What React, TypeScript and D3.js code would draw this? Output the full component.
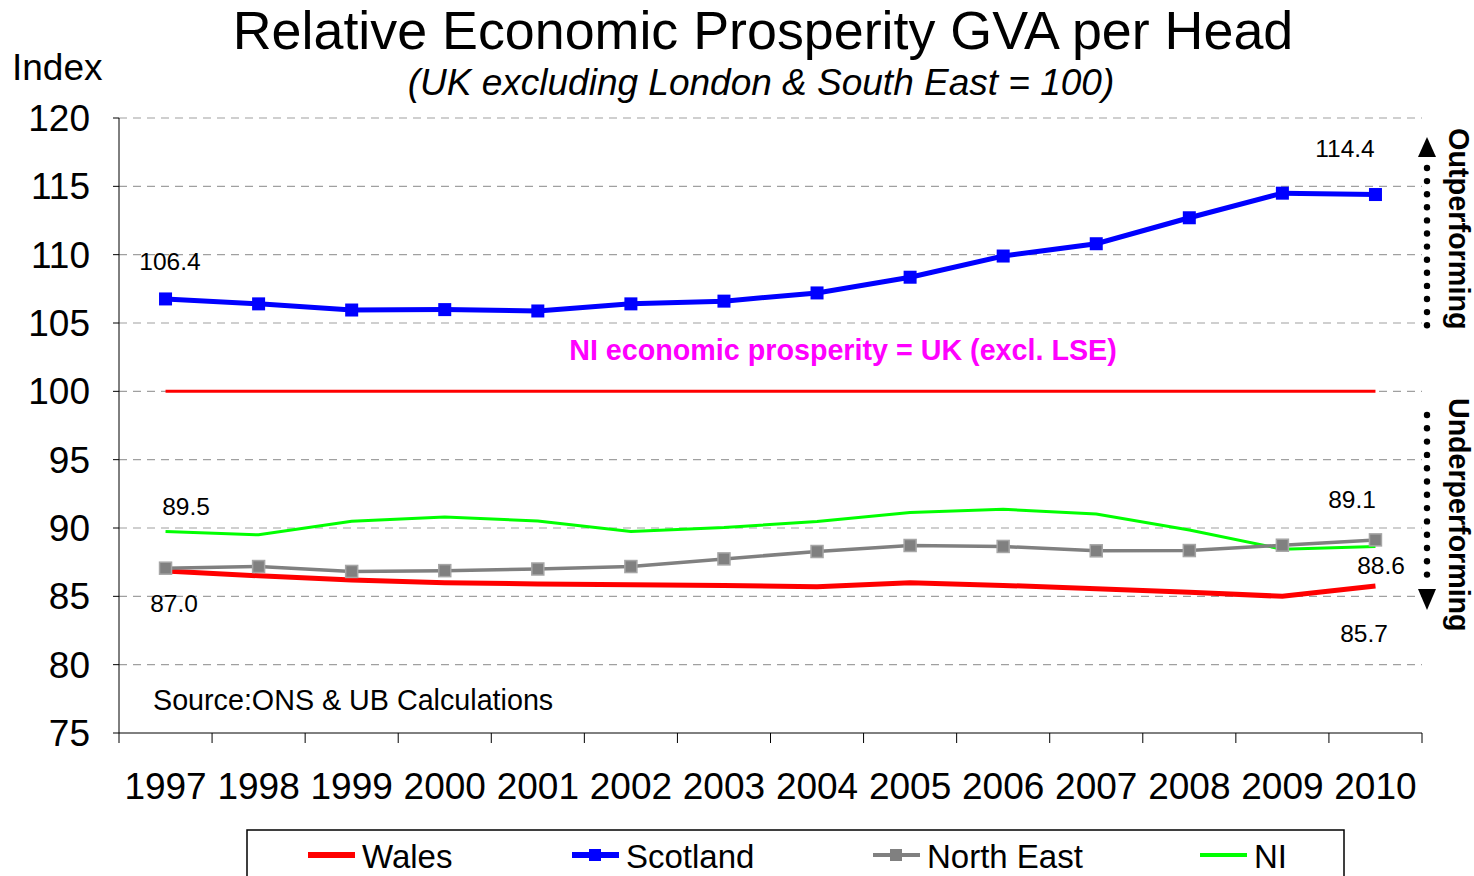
import React from "react";
import * as d3 from "d3";

const years = ["1997","1998","1999","2000","2001","2002","2003","2004","2005","2006","2007","2008","2009","2010"];
const wales = [86.86,86.5,86.2,86.0,85.9,85.85,85.8,85.7,86.0,85.8,85.55,85.3,85.0,85.75];
const scotland = [106.76,106.4,105.95,105.98,105.88,106.4,106.6,107.2,108.35,109.9,110.8,112.7,114.5,114.4];
const northEast = [87.06,87.18,86.82,86.88,87.0,87.18,87.74,88.28,88.72,88.65,88.33,88.35,88.74,89.13];
const ni = [89.74,89.5,90.5,90.8,90.52,89.74,90.03,90.48,91.13,91.37,91.03,89.86,88.45,88.65];
const baseline = years.map(() => 100);
const yTicks = [75,80,85,90,95,100,105,110,115,120];

const FONT = "'Liberation Sans', Arial, sans-serif";

export default function App() {
  const W = 1474, H = 876;
  const left = 119, right = 1422, top = 118, bottom = 733;
  const x = d3.scaleBand<string>().domain(years).range([left, right]);
  const y = d3.scaleLinear().domain([75, 120]).range([bottom, top]);
  const cx = (i: number) => (x(years[i]) as number) + x.bandwidth() / 2;
  const line = d3.line<number>().x((_, i) => cx(i)).y(d => y(d));

  const dotsUp = d3.range(168, 327, 13.1);
  const dotsDown = d3.range(415, 578, 13.3);

  const labels = [
    { t: "106.4", x: 170, y: 270 },
    { t: "114.4", x: 1345, y: 157 },
    { t: "89.5", x: 186, y: 515 },
    { t: "87.0", x: 174, y: 612 },
    { t: "89.1", x: 1352, y: 508 },
    { t: "88.6", x: 1381, y: 574 },
    { t: "85.7", x: 1364, y: 642 },
  ];

  const legend = [
    { name: "Wales", color: "#ff0000", x: 308, w: 5, marker: false },
    { name: "Scotland", color: "#0000ff", x: 572, w: 5, marker: true },
    { name: "North East", color: "#808080", x: 873, w: 3, marker: true },
    { name: "NI", color: "#00ff00", x: 1200, w: 3, marker: false },
  ];

  return (
    <svg width={W} height={H} style={{ position: "absolute", left: 0, top: 0, background: "#fff" }} fontFamily={FONT}>
      <rect x={0} y={0} width={W} height={H} fill="#fff" />
      <text x={763} y={49} textAnchor="middle" fontSize={53.8}>Relative Economic Prosperity GVA per Head</text>
      <text x={761} y={95} textAnchor="middle" fontSize={37} fontStyle="italic">(UK excluding London &amp; South East = 100)</text>
      <text x={12} y={80} fontSize={37}>Index</text>

      {yTicks.map(t => (
        <g key={t}>
          {t !== 75 && (
            <line x1={left} x2={right} y1={y(t)} y2={y(t)} stroke="#a0a0a0" strokeWidth={1.2} strokeDasharray="8,6" />
          )}
          <line x1={left - 6} x2={left} y1={y(t)} y2={y(t)} stroke="#000" />
          <text x={90} y={y(t) + 13} textAnchor="end" fontSize={37}>{t}</text>
        </g>
      ))}
      <line x1={left} x2={left} y1={top} y2={bottom} stroke="#000" strokeWidth={1} />
      <line x1={left} x2={right} y1={bottom} y2={bottom} stroke="#000" strokeWidth={1} />
      {years.map((yr) => (
        <line key={"t" + yr} x1={(x(yr) as number)} x2={(x(yr) as number)} y1={bottom} y2={bottom + 10} stroke="#000" />
      ))}
      <line x1={right} x2={right} y1={bottom} y2={bottom + 10} stroke="#000" />
      {years.map((yr, i) => (
        <text key={yr} x={cx(i)} y={799} textAnchor="middle" fontSize={37}>{yr}</text>
      ))}

      <path d={line(baseline) as string} fill="none" stroke="#ff0000" strokeWidth={3} />
      <path d={line(ni) as string} fill="none" stroke="#00ff00" strokeWidth={3} />
      <path d={line(wales) as string} fill="none" stroke="#ff0000" strokeWidth={5} />
      <path d={line(northEast) as string} fill="none" stroke="#808080" strokeWidth={3.5} />
      {northEast.map((v, i) => (
        <rect key={"ne" + i} x={cx(i) - 6} y={y(v) - 6} width={12} height={12} fill="#808080" stroke="#a6a6a6" strokeWidth={1.5} />
      ))}
      <path d={line(scotland) as string} fill="none" stroke="#0000ff" strokeWidth={5} />
      {scotland.map((v, i) => (
        <rect key={"sc" + i} x={cx(i) - 6.5} y={y(v) - 6.5} width={13} height={13} fill="#0000ff" />
      ))}

      {labels.map(l => (
        <text key={l.t} x={l.x} y={l.y} textAnchor="middle" fontSize={24.5}>{l.t}</text>
      ))}

      <text x={843} y={360} textAnchor="middle" fontSize={28.7} fontWeight="bold" fill="#ff00ff">NI economic prosperity = UK (excl. LSE)</text>
      <text x={153} y={710} fontSize={28.7}>Source:ONS &amp; UB Calculations</text>

      {dotsUp.map(d => <circle key={"u" + d} cx={1427} cy={d} r={3.2} fill="#000" />)}
      <path d="M1427,137 L1418,157 L1436,157 Z" fill="#000" />
      <text transform="translate(1449,128) rotate(90)" fontSize={28.8} fontWeight="bold">Outperforming</text>

      {dotsDown.map(d => <circle key={"d" + d} cx={1427} cy={d} r={3.2} fill="#000" />)}
      <path d="M1427,610 L1418,589 L1436,589 Z" fill="#000" />
      <text transform="translate(1449,398) rotate(90)" fontSize={28.6} fontWeight="bold">Underperforming</text>

      <rect x={247} y={830} width={1097} height={60} fill="#fff" stroke="#000" strokeWidth={1.5} />
      {legend.map(l => (
        <g key={l.name}>
          <line x1={l.x} x2={l.x + 47} y1={855} y2={855} stroke={l.color} strokeWidth={l.w + 1} />
          {l.marker && <rect x={l.x + 17} y={849} width={12} height={12} fill={l.color} />}
          <text x={l.x + 54} y={868} fontSize={33}>{l.name}</text>
        </g>
      ))}
    </svg>
  );
}
